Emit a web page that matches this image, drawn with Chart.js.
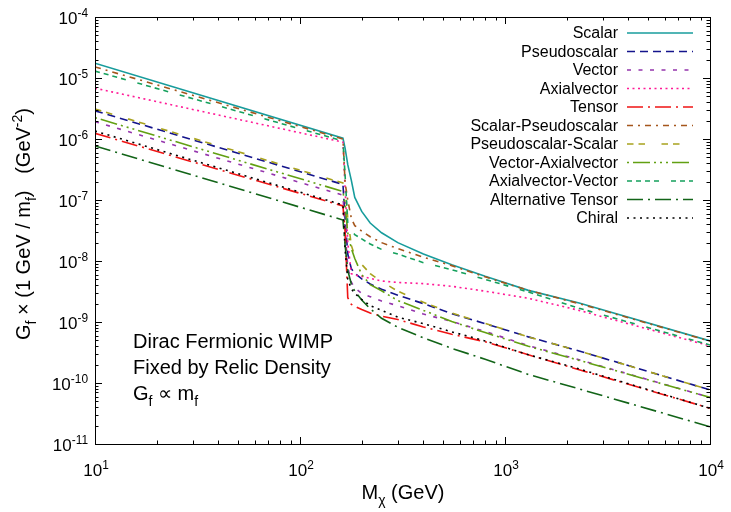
<!DOCTYPE html>
<html lang="en">
<head>
<meta charset="UTF-8">
<title>Dirac Fermionic WIMP - relic density couplings</title>
<script src="https://cdn.jsdelivr.net/npm/chart.js"></script>
<style>
  * { margin: 0; padding: 0; box-sizing: border-box; }
  body { background: #fff; width: 731px; height: 512px; overflow: hidden; }
</style>
</head>
<body>
<canvas id="relic" width="731" height="512"></canvas>
<script>
  // dark matter mass (GeV), shared by every curve
  const massGeV = [10, 162, 166, 171, 178, 185, 200, 220, 250, 300, 400, 550, 800, 1300, 2300, 10000];

  // G_f x (1 GeV / m_f) in GeV^-2
  const scalar      = [1.75e-5, 1.03e-6, 7.0e-7, 3.8e-7, 2.1e-7, 1.1e-7, 6.5e-8, 4.2e-8, 2.9e-8, 2.0e-8, 1.3e-8, 8.7e-9, 5.6e-9, 3.3e-9, 2.05e-9, 4.9e-10];
  const pseudo      = [2.9e-6, 1.8e-7, 5.0e-8, 1.3e-8, 7.5e-9, 6.3e-9, 5.1e-9, 4.2e-9, 3.45e-9, 2.75e-9, 2.0e-9, 1.37e-9, 9.4e-10, 5.7e-10, 3.35e-10, 7.7e-11];
  const vector      = [1.92e-6, 1.2e-7, 3.0e-8, 8.0e-9, 4.5e-9, 3.6e-9, 2.95e-9, 2.6e-9, 2.2e-9, 1.85e-9, 1.35e-9, 1.02e-9, 7.0e-10, 4.1e-10, 2.4e-10, 5.8e-11];
  const axial       = [6.8e-6, 8.9e-7, 1.5e-7, 2.0e-8, 6.2e-9, 5.9e-9, 5.6e-9, 5.2e-9, 4.7e-9, 4.45e-9, 4.25e-9, 3.85e-9, 3.2e-9, 2.45e-9, 1.55e-9, 4.05e-10];
  const tensor      = [1.24e-6, 8.0e-8, 3.0e-8, 2.5e-9, 1.95e-9, 1.8e-9, 1.6e-9, 1.4e-9, 1.25e-9, 1.1e-9, 8.3e-10, 6.3e-10, 4.75e-10, 2.9e-10, 1.65e-10, 3.85e-11];
  const scalarPs    = [1.52e-5, 1.0e-6, 1.9e-7, 1.0e-7, 5.0e-8, 3.8e-8, 3.1e-8, 2.5e-8, 2.0e-8, 1.6e-8, 1.15e-8, 8.4e-9, 5.5e-9, 3.3e-9, 2.0e-9, 4.85e-10];
  const psScalar    = [3.1e-6, 1.9e-7, 1.6e-7, 5.0e-8, 1.8e-8, 1.2e-8, 8.8e-9, 6.2e-9, 4.6e-9, 3.2e-9, 2.1e-9, 1.4e-9, 9.5e-10, 5.7e-10, 3.35e-10, 7.7e-11];
  const vecAxial    = [2.24e-6, 1.38e-7, 8.0e-8, 2.9e-8, 1.6e-8, 1.1e-8, 6.0e-9, 4.1e-9, 3.25e-9, 2.25e-9, 1.55e-9, 1.02e-9, 6.7e-10, 4.0e-10, 2.35e-10, 5.8e-11];
  const axialVec    = [1.3e-5, 9.3e-7, 2.5e-7, 4.2e-8, 3.3e-8, 2.7e-8, 2.3e-8, 1.9e-8, 1.55e-8, 1.3e-8, 9.4e-9, 7.2e-9, 5.0e-9, 3.1e-9, 1.68e-9, 4.2e-10];
  const altTensor   = [7.7e-7, 4.7e-8, 1.8e-8, 7.0e-9, 4.2e-9, 3.2e-9, 2.3e-9, 1.65e-9, 1.15e-9, 8.2e-10, 5.5e-10, 3.7e-10, 2.45e-10, 1.38e-10, 8.0e-11, 1.92e-11];
  const chiral      = [1.35e-6, 8.3e-8, 1.5e-8, 5.0e-9, 3.5e-9, 2.95e-9, 2.35e-9, 1.85e-9, 1.55e-9, 1.2e-9, 9.4e-10, 6.9e-10, 4.9e-10, 2.9e-10, 1.7e-10, 3.85e-11];

  const seriesNames = ['Scalar', 'Pseudoscalar', 'Vector', 'Axialvector', 'Tensor', 'Scalar-Pseudoscalar',
    'Pseudoscalar-Scalar', 'Vector-Axialvector', 'Axialvector-Vector', 'Alternative Tensor', 'Chiral'];
  const seriesValues = [scalar, pseudo, vector, axial, tensor, scalarPs, psScalar, vecAxial, axialVec, altTensor, chiral];

  // tick decades
  const xTickExp = [1, 2, 3, 4];
  const yTickExp = [-11, -10, -9, -8, -7, -6, -5, -4];

  const colors = ['#179c9c', '#14148c', '#9434ac', '#ff1a96', '#f01414', '#a5561c',
    '#a8a21e', '#62a012', '#14a05c', '#126418', '#000000'];
  const dashes = [[], [8, 5], [4, 7.5], [2, 3.5], [16, 5, 2, 5], [6, 5, 2, 5],
    [6.5, 5, 6.5, 16.5], [2, 4, 17, 4, 2, 4, 2, 4], [5, 4, 5, 4, 5, 4, 5, 12], [16, 5, 2, 5], [2, 4.5]];

  const FONT = '"Liberation Sans", Arial, sans-serif';

  // draws text made of normal / sub / sup pieces
  function richText(ctx, parts, size, x, y, align) {
    let w = 0;
    for (const p of parts) {
      ctx.font = (p.s ? size * 0.7 : size) + 'px ' + FONT;
      w += ctx.measureText(p.t).width;
    }
    let cx = align === 'center' ? x - w / 2 : align === 'right' ? x - w : x;
    ctx.textAlign = 'left';
    ctx.textBaseline = 'alphabetic';
    for (const p of parts) {
      ctx.font = (p.s ? size * 0.7 : size) + 'px ' + FONT;
      const dy = p.s === 'sub' ? size * 0.28 : p.s === 'sup' ? -size * 0.42 : 0;
      ctx.fillText(p.t, cx, y + dy);
      cx += ctx.measureText(p.t).width;
    }
  }

  const framePlugin = {
    id: 'frame',
    afterDraw(chart) {
      const { ctx, chartArea: a, scales: { x, y } } = chart;
      ctx.save();
      ctx.strokeStyle = '#000';
      ctx.fillStyle = '#000';
      ctx.lineWidth = 1;
      ctx.setLineDash([]);
      ctx.strokeRect(Math.round(a.left) + 0.5, Math.round(a.top) + 0.5,
        Math.round(a.right - a.left), Math.round(a.bottom - a.top));

      // inward ticks on all four sides
      ctx.beginPath();
      xTickExp.forEach(e => {
        for (let m = 1; m <= 9; m++) {
          const v = m * Math.pow(10, e);
          if (v > 10000) break;
          const px = Math.round(x.getPixelForValue(v)) + 0.5;
          const len = m === 1 ? 7 : 3.5;
          ctx.moveTo(px, a.bottom); ctx.lineTo(px, a.bottom - len);
          ctx.moveTo(px, a.top); ctx.lineTo(px, a.top + len);
        }
      });
      yTickExp.forEach(e => {
        for (let m = 1; m <= 9; m++) {
          const v = m * Math.pow(10, e);
          if (v > 1e-4) break;
          const py = Math.round(y.getPixelForValue(v)) + 0.5;
          const len = m === 1 ? 7 : 3.5;
          ctx.moveTo(a.left, py); ctx.lineTo(a.left + len, py);
          ctx.moveTo(a.right, py); ctx.lineTo(a.right - len, py);
        }
      });
      ctx.stroke();

      // tick labels
      xTickExp.forEach(e => {
        const px = x.getPixelForValue(Math.pow(10, e));
        richText(ctx, [{ t: '10' }, { t: String(e), s: 'sup' }], 17, px + 1, 476, 'center');
      });
      yTickExp.forEach(e => {
        const py = y.getPixelForValue(Math.pow(10, e));
        richText(ctx, [{ t: '10' }, { t: String(e), s: 'sup' }], 17, 88, py + 7, 'right');
      });

      // axis titles
      richText(ctx, [{ t: 'M' }, { t: 'χ', s: 'sub' }, { t: ' (GeV)' }], 20, 403, 499, 'center');
      ctx.save();
      ctx.translate(30, 224);
      ctx.rotate(-Math.PI / 2);
      richText(ctx, [{ t: 'G' }, { t: 'f', s: 'sub' }, { t: ' × (1 GeV / m' }, { t: 'f', s: 'sub' },
        { t: ')   (GeV' }, { t: '-2', s: 'sup' }, { t: ')' }], 20, 0, 0, 'center');
      ctx.restore();

      // annotation
      richText(ctx, [{ t: 'Dirac Fermionic WIMP' }], 20, 133, 348, 'left');
      richText(ctx, [{ t: 'Fixed by Relic Density' }], 20, 133, 374, 'left');
      richText(ctx, [{ t: 'G' }, { t: 'f', s: 'sub' }, { t: ' ∝ m' }, { t: 'f', s: 'sub' }], 20, 133, 400, 'left');

      // key
      chart.data.datasets.forEach((ds, i) => {
        const cy = 33 + i * 18.5;
        ctx.fillStyle = '#000';
        ctx.font = '16px ' + FONT;
        ctx.textAlign = 'right';
        ctx.textBaseline = 'middle';
        ctx.fillText(ds.label, 618, cy + 1);
        ctx.strokeStyle = ds.borderColor;
        ctx.lineWidth = ds.borderWidth;
        ctx.setLineDash(ds.borderDash);
        ctx.beginPath();
        ctx.moveTo(627, cy);
        ctx.lineTo(693, cy);
        ctx.stroke();
      });
      ctx.restore();
    }
  };

  new Chart(document.getElementById('relic'), {
    type: 'line',
    data: {
      datasets: seriesNames.map((name, i) => ({
        label: name,
        data: massGeV.map((m, k) => ({ x: m, y: seriesValues[i][k] })),
        borderColor: colors[i],
        borderDash: dashes[i],
        borderWidth: 1.6,
        pointRadius: 0,
        fill: false,
        tension: 0,
        order: -i
      }))
    },
    options: {
      responsive: false,
      animation: false,
      devicePixelRatio: 1,
      layout: { padding: { left: 95, right: 21, top: 17, bottom: 68 } },
      plugins: { legend: { display: false }, tooltip: { enabled: false } },
      scales: {
        x: { type: 'logarithmic', min: 10, max: 10000,
             ticks: { display: false }, grid: { display: false }, border: { display: false },
             afterFit: s => { s.height = 0; s.paddingLeft = 0; s.paddingRight = 0; } },
        y: { type: 'logarithmic', min: 1e-11, max: 1e-4,
             ticks: { display: false }, grid: { display: false }, border: { display: false },
             afterFit: s => { s.width = 0; s.paddingTop = 0; s.paddingBottom = 0; } }
      }
    },
    plugins: [framePlugin]
  });
</script>
</body>
</html>
